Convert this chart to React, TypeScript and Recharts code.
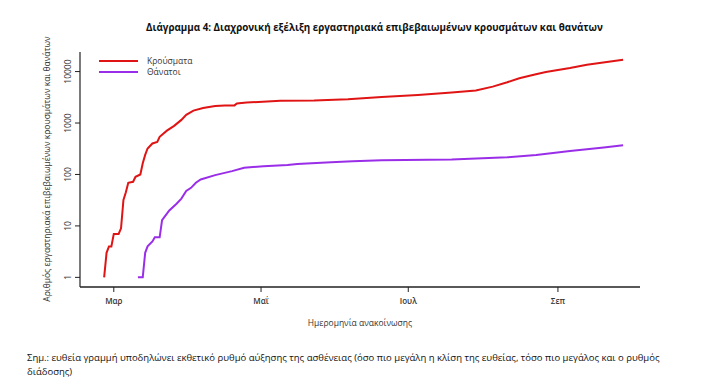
import React from "react";
import { LineChart, Line, XAxis, YAxis } from "recharts";

// days counted from 1 March 2020
const casesDays = [-4, -3, -2, -1, 0, 2, 3, 4, 5, 6, 8, 9, 11, 12, 13, 14, 16, 18, 19, 22, 25, 28, 30, 33, 37, 42, 46, 50, 51, 55, 69, 83, 97, 111, 126, 140, 150, 157, 163, 168, 174, 179, 189, 196, 211];
const casesValues = [1, 3, 4, 4, 7, 7, 9, 32, 45, 69, 72, 90, 100, 165, 240, 320, 400, 430, 540, 710, 880, 1150, 1440, 1740, 1960, 2150, 2200, 2200, 2400, 2500, 2700, 2750, 2900, 3200, 3500, 3900, 4300, 5100, 6200, 7400, 8700, 9800, 11700, 13500, 17000];

const deathsDays = [10, 12, 13, 14, 16, 17, 19, 20, 21, 23, 26, 28, 30, 32, 34, 36, 42, 49, 54, 62, 72, 76, 90, 99, 111, 140, 163, 175, 189, 203, 211];
const deathsValues = [1, 1, 3, 4, 5, 6, 6, 13, 15, 20, 27, 34, 48, 55, 69, 80, 97, 116, 135, 145, 152, 160, 172, 180, 190, 195, 215, 240, 285, 335, 370];

const xTicks = [0, 61, 122, 184];
const xTickLabels = ["Μαρ", "Μαΐ", "Ιουλ", "Σεπ"];
const yTicks = [1, 10, 100, 1000, 10000];

const seriesNames = ["Κρούσματα", "Θάνατοι"];
const colors = ["#e01414", "#9a2ee8"];

const casesData = casesDays.map((d, i) => ({ day: d, value: casesValues[i] }));
const deathsData = deathsDays.map((d, i) => ({ day: d, value: deathsValues[i] }));

const FONT = "'Open Sans', 'DejaVu Sans', sans-serif";

const YTick = (props: any) => {
  const { x, y, payload } = props;
  return (
    <text
      x={x - 2}
      y={y}
      transform={`rotate(-90, ${x - 2}, ${y})`}
      textAnchor="middle"
      fontSize={8.5}
      fill="#333"
      fontFamily={FONT}
    >
      {payload.value}
    </text>
  );
};

const XTick = (props: any) => {
  const { x, y, payload } = props;
  const idx = xTicks.indexOf(payload.value);
  return (
    <text x={x} y={y + 10} textAnchor="middle" fontSize={8} fill="#333" fontFamily={FONT} fontWeight={600}>
      {xTickLabels[idx]}
    </text>
  );
};

export default function App() {
  return (
    <div style={{ position: "absolute", left: 0, top: 0, width: 701, height: 392, background: "#fff", fontFamily: FONT }}>
      <div
        style={{
          position: "absolute",
          left: 0,
          width: 701,
          top: 21,
          textAlign: "center",
          fontSize: 9.8,
          fontWeight: 700,
          color: "#111",
          paddingLeft: 48,
          boxSizing: "border-box",
        }}
      >
        Διάγραμμα 4: Διαχρονική εξέλιξη εργαστηριακά επιβεβαιωμένων κρουσμάτων και θανάτων
      </div>
      <div
        style={{
          position: "absolute",
          left: 46,
          top: 169,
          transform: "translate(-50%, -50%) rotate(-90deg)",
          whiteSpace: "nowrap",
          fontSize: 8.5,
          color: "#333",
        }}
      >
        Αριθμός εργαστηριακά επιβεβαιωμένων κρουσμάτων και θανάτων
      </div>
      <div style={{ position: "absolute", left: 0, top: 0 }}>
        <LineChart width={701} height={392} margin={{ top: 52, right: 61, bottom: 75, left: 0 }}>
          <XAxis
            dataKey="day"
            type="number"
            domain={[-14, 218]}
            ticks={xTicks}
            tick={<XTick />}
            height={30}
            axisLine={{ stroke: "#222", strokeWidth: 1.5 }}
            tickLine={{ stroke: "#222" }}
            tickSize={5}
            allowDataOverflow
          />
          <YAxis
            scale="log"
            type="number"
            domain={[0.65, 24000]}
            ticks={yTicks}
            tick={<YTick />}
            width={80}
            axisLine={{ stroke: "#222", strokeWidth: 1.2 }}
            tickLine={{ stroke: "#222" }}
            tickSize={5}
            allowDataOverflow
          />
          <Line
            data={casesData}
            dataKey="value"
            name={seriesNames[0]}
            stroke={colors[0]}
            strokeWidth={2}
            dot={false}
            isAnimationActive={false}
            type="linear"
          />
          <Line
            data={deathsData}
            dataKey="value"
            name={seriesNames[1]}
            stroke={colors[1]}
            strokeWidth={2}
            dot={false}
            isAnimationActive={false}
            type="linear"
          />
        </LineChart>
      </div>
      <div style={{ position: "absolute", left: 99, top: 55, fontSize: 8.5, color: "#333" }}>
        {seriesNames.map((n, i) => (
          <div key={n} style={{ display: "flex", alignItems: "center", height: 11 }}>
            <div style={{ width: 39, height: 2, background: colors[i], marginRight: 9 }} />
            <span>{n}</span>
          </div>
        ))}
      </div>
      <div
        style={{
          position: "absolute",
          left: 80,
          width: 560,
          top: 317,
          textAlign: "center",
          fontSize: 8.5,
          color: "#333",
        }}
      >
        Ημερομηνία ανακοίνωσης
      </div>
      <div
        style={{
          position: "absolute",
          left: 27,
          top: 351,
          width: 650,
          fontSize: 9.5,
          lineHeight: "14px",
          color: "#111",
        }}
      >
        Σημ.: ευθεία γραμμή υποδηλώνει εκθετικό ρυθμό αύξησης της ασθένειας (όσο πιο μεγάλη η κλίση της ευθείας, τόσο πιο μεγάλος και ο ρυθμός διάδοσης)
      </div>
    </div>
  );
}
